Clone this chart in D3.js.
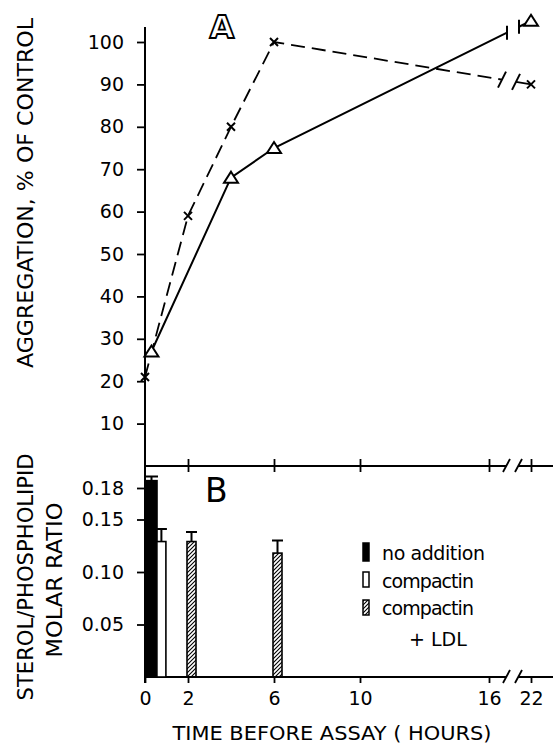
<!DOCTYPE html>
<html>
<head>
<meta charset="utf-8">
<script src="https://cdn.jsdelivr.net/npm/d3@7"></script>
<style>
  body { margin: 0; background: #fff; }
  text { font-family: "DejaVu Sans", sans-serif; fill: #000; }
</style>
</head>
<body>
<div id="chart"></div>
<script>
// Panel A - aggregation, % of control
var triHours    = [0.3, 4, 6, 22]
var triValues   = [27, 68, 75, 105]
var crossHours  = [0, 2, 4, 6, 22]
var crossValues = [21, 59, 80, 100, 90]

// Panel B - sterol/phospholipid molar ratio
var barKind   = ['none', 'compactin', 'ldl', 'ldl']
var barHours  = [0, 0.6, 2, 6]
var barValues = [0.187, 0.129, 0.129, 0.118]
var barErrors = [0.004, 0.012, 0.009, 0.012]

// Ticks
var topYTicks = [10, 20, 30, 40, 50, 60, 70, 80, 90, 100]
var botYTicks = [0.05, 0.10, 0.15, 0.18]
var topXTicks = [2, 6, 10, 16, 22]
var botXTicks = [0, 2, 6, 10, 16, 22]

// Legend
var legendKinds  = ['none', 'compactin', 'ldl']
var legendLabels = ['no addition', 'compactin', 'compactin']

var W = 553, H = 745
var svg = d3.select('#chart').append('svg')
    .attr('width', W)
    .attr('height', H)

var defs = svg.append('defs')
defs.append('pattern')
    .attr('id', 'hatch')
    .attr('patternUnits', 'userSpaceOnUse')
    .attr('width', 4).attr('height', 4)
  .append('path')
    .attr('d', 'M-1,1 l2,-2 M0,4 l4,-4 M3,5 l2,-2')
    .attr('stroke', '#000').attr('stroke-width', 1.1)

function kindFill(k) {
    if (k == 'none')      { return '#000' }
    if (k == 'compactin') { return '#fff' }
    return 'url(#hatch)'
}

// Scales (x has a break between 16 and 22 h)
var x    = d3.scaleLinear().domain([0, 16, 22]).range([145, 489, 531])
var yTop = d3.scaleLinear().domain([0, 100]).range([466, 42])
var yBot = d3.scaleLinear().domain([0, 0.18]).range([677, 488])
var xBreak = (x(16) + x(22)) / 2

// ---------- Axes ----------
var ax = svg.append('g').attr('transform', `translate(${x(0)},0)`)
    .call(d3.axisLeft(yTop).tickValues(topYTicks).tickSize(8).tickPadding(13).tickFormat(d3.format('d')))
ax.select('.domain').remove()

var bx = svg.append('g').attr('transform', `translate(${x(0)},0)`)
    .call(d3.axisLeft(yBot).tickValues(botYTicks).tickSize(8).tickPadding(13).tickFormat(d3.format('.2f')))
bx.select('.domain').remove()

// vertical axis line through both panels
svg.append('line')
    .attr('x1', x(0)).attr('x2', x(0))
    .attr('y1', 27).attr('y2', 683)
    .attr('stroke', '#000').attr('stroke-width', 2)

// top x-axis (between panels)
var tx = svg.append('g').attr('transform', `translate(0,${yTop(0)})`)
    .call(d3.axisBottom(x).tickValues(topXTicks).tickSize(6).tickFormat(''))
tx.select('.domain').remove()
tx.selectAll('.tick line').attr('y1', -7)

// bottom x-axis
var btx = svg.append('g').attr('transform', `translate(0,${yBot(0)})`)
    .call(d3.axisBottom(x).tickValues(botXTicks).tickSize(6).tickPadding(9).tickFormat(d3.format('d')))
btx.select('.domain').remove()

svg.selectAll('.tick text').attr('font-family', 'DejaVu Sans').attr('font-size', 19).attr('fill', '#000')
svg.selectAll('.tick line').attr('stroke', '#000').attr('stroke-width', 1.8)

// horizontal axis lines with break marks
;[yTop(0), yBot(0)].forEach(function(yy) {
    svg.append('line').attr('x1', x(0)).attr('x2', xBreak - 4).attr('y1', yy).attr('y2', yy)
        .attr('stroke', '#000').attr('stroke-width', 2)
    svg.append('line').attr('x1', xBreak + 8).attr('x2', W).attr('y1', yy).attr('y2', yy)
        .attr('stroke', '#000').attr('stroke-width', 2)
    ;[xBreak - 3, xBreak + 9].forEach(function(bxp) {
        svg.append('line')
            .attr('x1', bxp - 4).attr('y1', yy + 6)
            .attr('x2', bxp + 3).attr('y2', yy - 7)
            .attr('stroke', '#000').attr('stroke-width', 1.8)
    })
})

// ---------- Panel A lines ----------
function splitAtBreak(hs, vs, gapL, gapR) {
    var pts = hs.map((h, i) => [x(h), yTop(vs[i])])
    var n = pts.length
    var a = pts[n - 2], b = pts[n - 1]
    function at(px) { return [px, a[1] + (b[1] - a[1]) * (px - a[0]) / (b[0] - a[0])] }
    var pl = at(gapL), pr = at(gapR)
    return { left: pts.slice(0, n - 1).concat([pl]), right: [pr, b], pl: pl, pr: pr, pts: pts }
}

var line = d3.line()

var solid = splitAtBreak(triHours, triValues, xBreak - 3, xBreak + 9)
svg.append('path').attr('d', line(solid.left)).attr('fill', 'none').attr('stroke', '#000').attr('stroke-width', 2)
svg.append('path').attr('d', line(solid.right)).attr('fill', 'none').attr('stroke', '#000').attr('stroke-width', 2)
;[solid.pl, solid.pr].forEach(function(p) {
    svg.append('line').attr('x1', p[0]).attr('x2', p[0]).attr('y1', p[1] - 7).attr('y2', p[1] + 7)
        .attr('stroke', '#000').attr('stroke-width', 2)
})

var dashed = splitAtBreak(crossHours, crossValues, xBreak - 8, xBreak + 6)
svg.append('path').attr('d', line(dashed.left)).attr('fill', 'none').attr('stroke', '#000')
    .attr('stroke-width', 1.8).attr('stroke-dasharray', '14,7')
svg.append('path').attr('d', line(dashed.right)).attr('fill', 'none').attr('stroke', '#000').attr('stroke-width', 1.8)
;[dashed.pl, dashed.pr].forEach(function(p) {
    svg.append('line').attr('x1', p[0] - 4).attr('y1', p[1] + 8).attr('x2', p[0] + 4).attr('y2', p[1] - 8)
        .attr('stroke', '#000').attr('stroke-width', 2)
})

// triangles
svg.selectAll('.tri').data(solid.pts).enter().append('path')
    .attr('class', 'tri')
    .attr('d', d => `M${d[0]},${d[1] - 6} L${d[0] + 7},${d[1] + 5} L${d[0] - 7},${d[1] + 5} Z`)
    .attr('fill', '#fff').attr('stroke', '#000').attr('stroke-width', 2)

// crosses
svg.selectAll('.cross').data(dashed.pts).enter().append('path')
    .attr('class', 'cross')
    .attr('d', d => `M${d[0] - 4},${d[1] - 4} L${d[0] + 4},${d[1] + 4} M${d[0] + 4},${d[1] - 4} L${d[0] - 4},${d[1] + 4}`)
    .attr('stroke', '#000').attr('stroke-width', 2)

// ---------- Panel B bars ----------
var bars = barHours.map((h, i) => ({ h: h, v: barValues[i], e: barErrors[i], k: barKind[i] }))
function barX(d) { return d.k == 'none' ? x(d.h) + 1 : x(d.h) - 1 }
function barW(d) { return d.k == 'none' ? 11 : 9 }

svg.selectAll('.err').data(bars).enter().append('path')
    .attr('class', 'err')
    .attr('d', d => {
        var cx = barX(d) + barW(d) / 2, yt = yBot(d.v + d.e)
        return `M${cx},${yBot(d.v)} L${cx},${yt} M${barX(d) - 1},${yt} L${barX(d) + barW(d) + 1},${yt}`
    })
    .attr('stroke', '#000').attr('stroke-width', 2)

svg.selectAll('.bar').data(bars).enter().append('rect')
    .attr('class', 'bar')
    .attr('x', barX)
    .attr('width', barW)
    .attr('y', d => yBot(d.v))
    .attr('height', d => yBot(0) - yBot(d.v))
    .attr('fill', d => kindFill(d.k))
    .attr('stroke', '#000').attr('stroke-width', 1.6)

// ---------- Legend ----------
var lg = svg.append('g')
lg.selectAll('rect').data(legendKinds).enter().append('rect')
    .attr('x', 363)
    .attr('y', (d, i) => [543, 572, 600][i])
    .attr('width', 6)
    .attr('height', (d, i) => i == 0 ? 18 : 15)
    .attr('fill', kindFill)
    .attr('stroke', '#000').attr('stroke-width', 1.5)
lg.selectAll('text').data(legendLabels).enter().append('text')
    .attr('x', 382)
    .attr('y', (d, i) => 560 + i * 27.5)
    .attr('font-size', 19)
    .attr('textLength', (d, i) => i == 0 ? 103 : 92)
    .text(d => d)
lg.append('text').attr('x', 409).attr('y', 646).attr('font-size', 19).text('+ LDL')

// ---------- Labels ----------
svg.append('text').attr('x', 222).attr('y', 38).attr('text-anchor', 'middle')
    .attr('font-size', 32).attr('font-weight', 'bold')
    .style('fill', '#fff').attr('stroke', '#000').attr('stroke-width', 1.8)
    .text('A')
svg.append('text').attr('x', 205).attr('y', 502)
    .attr('font-size', 33)
    .text('B')

svg.append('text')
    .attr('transform', 'translate(33,193) rotate(-90)')
    .attr('text-anchor', 'middle').attr('font-size', 21)
    .attr('textLength', 350).attr('lengthAdjust', 'spacingAndGlyphs')
    .text('AGGREGATION, % OF CONTROL')
svg.append('text')
    .attr('transform', 'translate(33,577) rotate(-90)')
    .attr('text-anchor', 'middle').attr('font-size', 21)
    .attr('textLength', 247).attr('lengthAdjust', 'spacingAndGlyphs')
    .text('STEROL/PHOSPHOLIPID')
svg.append('text')
    .attr('transform', 'translate(62,580) rotate(-90)')
    .attr('text-anchor', 'middle').attr('font-size', 21)
    .attr('textLength', 155).attr('lengthAdjust', 'spacingAndGlyphs')
    .text('MOLAR RATIO')
svg.append('text')
    .attr('x', 332).attr('y', 740)
    .attr('text-anchor', 'middle').attr('font-size', 20)
    .attr('textLength', 319).attr('lengthAdjust', 'spacingAndGlyphs')
    .text('TIME BEFORE ASSAY ( HOURS)')
</script>
</body>
</html>
